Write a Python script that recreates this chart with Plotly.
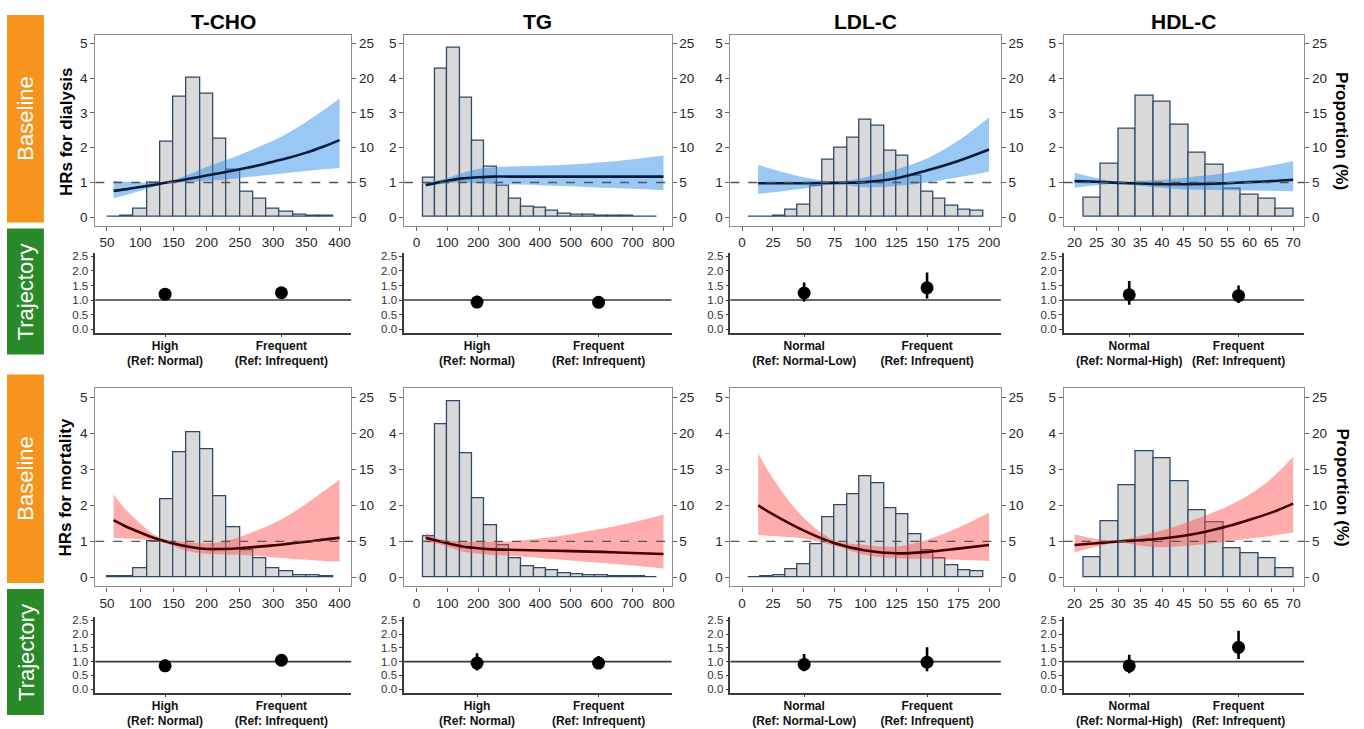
import plotly.graph_objects as go

# ---------------- DATA ----------------
# Histograms: bin centres and proportion (%)
TCHO_BINS = [60, 80, 100, 120, 140, 160, 180, 200, 220, 240, 260, 280, 300, 320, 340, 360, 380]
TCHO_PCT = [0.1, 0.2, 1.2, 5.0, 10.8, 17.4, 20.1, 17.8, 11.3, 6.9, 3.7, 2.6, 1.2, 0.8, 0.35, 0.25, 0.2]
TCHO_BW = 20

TG_BINS = [40, 80, 120, 160, 200, 240, 280, 320, 360, 400, 440, 480, 520, 560, 600, 640, 680, 720, 760]
TG_PCT = [5.7, 21.3, 24.4, 17.2, 11.0, 7.2, 4.5, 2.6, 1.5, 1.3, 0.95, 0.57, 0.43, 0.33, 0.24, 0.2, 0.2, 0.1, 0.05]
TG_BW = 40

LDL_BINS = [10, 20, 30, 40, 50, 60, 70, 80, 90, 100, 110, 120, 130, 140, 150, 160, 170, 180, 190]
LDL_PCT = [0.05, 0.1, 0.25, 1.1, 1.85, 4.6, 8.3, 10.0, 11.5, 14.0, 13.1, 9.6, 8.8, 6.0, 3.7, 2.7, 1.7, 1.05, 0.9]
LDL_BW = 10

HDL_BINS = [24, 28, 32, 36, 40, 44, 48, 52, 56, 60, 64, 68]
HDL_PCT = [2.85, 7.75, 12.8, 17.5, 16.6, 13.3, 9.3, 7.6, 4.1, 3.3, 2.6, 1.2]
HDL_BW = 4

# Spline HR curves (x, HR, lower CI, upper CI)
TCHO_X = [60, 80, 100, 120, 140, 160, 180, 200, 225, 250, 275, 300, 325, 350, 375, 400]
TCHO_HR_DIAL = [0.76, 0.81, 0.87, 0.93, 1.0, 1.06, 1.13, 1.2, 1.29, 1.38, 1.48, 1.6, 1.72, 1.86, 2.03, 2.22]
TCHO_LO_DIAL = [0.55, 0.65, 0.76, 0.88, 0.98, 1.0, 1.02, 1.05, 1.08, 1.13, 1.18, 1.23, 1.28, 1.33, 1.38, 1.42]
TCHO_HI_DIAL = [1.05, 1.02, 1.0, 0.99, 1.02, 1.14, 1.28, 1.45, 1.62, 1.8, 2.0, 2.2, 2.45, 2.75, 3.07, 3.42]
TCHO_HR_MORT = [1.59, 1.4, 1.25, 1.1, 0.99, 0.9, 0.83, 0.79, 0.79, 0.81, 0.85, 0.89, 0.94, 0.99, 1.05, 1.1]
TCHO_LO_MORT = [1.1, 1.08, 1.06, 1.02, 0.94, 0.8, 0.7, 0.66, 0.64, 0.63, 0.6, 0.56, 0.52, 0.49, 0.46, 0.44]
TCHO_HI_MORT = [2.3, 1.85, 1.5, 1.2, 1.04, 1.0, 0.97, 0.95, 1.0, 1.12, 1.3, 1.5, 1.75, 2.05, 2.38, 2.72]

TG_X = [30, 60, 100, 150, 200, 250, 300, 400, 500, 600, 700, 800]
TG_HR_DIAL = [0.93, 0.98, 1.05, 1.12, 1.15, 1.17, 1.17, 1.17, 1.17, 1.17, 1.17, 1.17]
TG_LO_DIAL = [0.88, 0.93, 0.98, 1.0, 0.98, 0.96, 0.94, 0.92, 0.89, 0.85, 0.82, 0.78]
TG_HI_DIAL = [0.98, 1.04, 1.13, 1.28, 1.39, 1.44, 1.46, 1.48, 1.52, 1.58, 1.67, 1.78]
TG_HR_MORT = [1.1, 1.03, 0.95, 0.86, 0.81, 0.78, 0.77, 0.75, 0.73, 0.71, 0.68, 0.65]
TG_LO_MORT = [0.97, 0.95, 0.85, 0.72, 0.66, 0.62, 0.6, 0.54, 0.47, 0.4, 0.33, 0.25]
TG_HI_MORT = [1.25, 1.1, 1.03, 1.0, 0.99, 0.99, 1.0, 1.08, 1.2, 1.35, 1.53, 1.75]

LDL_X = [13, 25, 50, 75, 100, 125, 150, 175, 200]
LDL_HR_DIAL = [0.98, 0.98, 0.98, 0.99, 1.01, 1.12, 1.35, 1.62, 1.95]
LDL_LO_DIAL = [0.67, 0.72, 0.83, 0.94, 0.86, 0.9, 1.0, 1.15, 1.32]
LDL_HI_DIAL = [1.5, 1.38, 1.15, 1.02, 1.15, 1.38, 1.7, 2.2, 2.88]
LDL_HR_MORT = [2.0, 1.75, 1.3, 0.95, 0.75, 0.67, 0.71, 0.8, 0.9]
LDL_LO_MORT = [1.18, 1.15, 1.08, 0.88, 0.62, 0.53, 0.52, 0.49, 0.46]
LDL_HI_MORT = [3.45, 2.75, 1.65, 1.03, 0.9, 0.86, 1.05, 1.38, 1.8]

HDL_X = [20, 25, 30, 35, 40, 45, 50, 55, 60, 65, 70]
HDL_HR_DIAL = [1.04, 1.02, 0.99, 0.97, 0.95, 0.95, 0.96, 0.98, 1.01, 1.04, 1.08]
HDL_LO_DIAL = [0.85, 0.92, 0.97, 0.9, 0.84, 0.8, 0.79, 0.78, 0.77, 0.76, 0.75]
HDL_HI_DIAL = [1.28, 1.13, 1.02, 1.05, 1.08, 1.14, 1.2, 1.28, 1.38, 1.49, 1.61]
HDL_HR_MORT = [0.9, 0.95, 1.0, 1.03, 1.08, 1.16, 1.27, 1.42, 1.6, 1.8, 2.05]
HDL_LO_MORT = [0.7, 0.85, 0.98, 0.88, 0.84, 0.87, 0.93, 1.0, 1.08, 1.16, 1.25]
HDL_HI_MORT = [1.2, 1.07, 1.03, 1.15, 1.3, 1.5, 1.72, 1.98, 2.3, 2.75, 3.35]

# Trajectory HRs
TCHO_TRAJ_LABELS = ["High<br>(Ref: Normal)", "Frequent<br>(Ref: Infrequent)"]
TG_TRAJ_LABELS = ["High<br>(Ref: Normal)", "Frequent<br>(Ref: Infrequent)"]
LDL_TRAJ_LABELS = ["Normal<br>(Ref: Normal-Low)", "Frequent<br>(Ref: Infrequent)"]
HDL_TRAJ_LABELS = ["Normal<br>(Ref: Normal-High)", "Frequent<br>(Ref: Infrequent)"]

TCHO_TRAJ_DIAL = [1.2, 1.25]; TCHO_TRAJ_DIAL_LO = [1.08, 1.12]; TCHO_TRAJ_DIAL_HI = [1.33, 1.4]
TG_TRAJ_DIAL = [0.93, 0.92]; TG_TRAJ_DIAL_LO = [0.78, 0.82]; TG_TRAJ_DIAL_HI = [1.15, 1.04]
LDL_TRAJ_DIAL = [1.24, 1.42]; LDL_TRAJ_DIAL_LO = [0.95, 1.05]; LDL_TRAJ_DIAL_HI = [1.6, 1.95]
HDL_TRAJ_DIAL = [1.18, 1.15]; HDL_TRAJ_DIAL_LO = [0.84, 0.9]; HDL_TRAJ_DIAL_HI = [1.65, 1.5]

TCHO_TRAJ_MORT = [0.85, 1.05]; TCHO_TRAJ_MORT_LO = [0.7, 0.88]; TCHO_TRAJ_MORT_HI = [1.08, 1.27]
TG_TRAJ_MORT = [0.95, 0.95]; TG_TRAJ_MORT_LO = [0.68, 0.75]; TG_TRAJ_MORT_HI = [1.3, 1.2]
LDL_TRAJ_MORT = [0.9, 0.98]; LDL_TRAJ_MORT_LO = [0.65, 0.65]; LDL_TRAJ_MORT_HI = [1.28, 1.52]
HDL_TRAJ_MORT = [0.85, 1.52]; HDL_TRAJ_MORT_LO = [0.58, 1.1]; HDL_TRAJ_MORT_HI = [1.25, 2.12]

TITLES = ["T-CHO", "TG", "LDL-C", "HDL-C"]
TCHO_TICKS = [50, 100, 150, 200, 250, 300, 350, 400]
TG_TICKS = [0, 100, 200, 300, 400, 500, 600, 700, 800]
LDL_TICKS = [0, 25, 50, 75, 100, 125, 150, 175, 200]
HDL_TICKS = [20, 25, 30, 35, 40, 45, 50, 55, 60, 65, 70]
HR_TICKS = [0, 1, 2, 3, 4, 5]
PCT_TICKS = [0, 5, 10, 15, 20, 25]
TRAJ_TICKS = [0.0, 0.5, 1.0, 1.5, 2.0, 2.5]

# ---------------- STYLE / LAYOUT ----------------
W, H = 1364, 729
FONT = "Liberation Sans, Arial, sans-serif"
NARROW = "Liberation Sans Narrow, Liberation Sans, Arial, sans-serif"
BAR_FILL = "#d9d9d9"
BAR_EDGE = "#2d4a6b"
BLUE_BAND = "rgba(40,140,230,0.48)"
RED_BAND = "rgba(255,70,70,0.45)"
NAVY = "#0a1a3c"
DARKRED = "#420000"
ORANGE = "#F7941D"
GREEN = "#2A8A2A"

COLS_PX = [(95.5, 352), (405, 673), (732, 1003), (1066, 1307)]
BASE_ROWS_PX = [(33, 225.5), (389, 588.5)]
TRAJ_ROWS_PX = [(252.5, 333), (619, 695.5)]
XRANGES = [[32.5, 417.5], [-40, 826], [-9.5, 209.5], [17.5, 72.5]]


def xdom(a, b):
    return [a / W, b / W]


def ydom(top, bottom):
    return [1 - bottom / H, 1 - top / H]


def aname(kind, n):
    return kind + "axis" + ("" if n == 1 else str(n))


def aref(kind, n):
    return kind + ("" if n == 1 else str(n))


fig = go.Figure()
layout = {}
shapes = []
annotations = []
counter = {"x": 0, "y": 0}


def new_axis(kind):
    counter[kind] += 1
    return counter[kind]


def baseline_panel(col, row, bins, pct, bw, xs, hr, lo, hi, band, line_col, ticks):
    nx = new_axis("x")
    nyp = new_axis("y")
    nyh = new_axis("y")
    X, YP, YH = aref("x", nx), aref("y", nyp), aref("y", nyh)
    fig.add_trace(go.Bar(x=bins, y=pct, width=[bw] * len(bins),
                         marker=dict(color=BAR_FILL, line=dict(color=BAR_EDGE, width=1.3)),
                         xaxis=X, yaxis=YP, hoverinfo="skip"))
    fig.add_trace(go.Scatter(x=xs, y=lo, mode="lines", line=dict(width=0, shape="spline", color=band),
                             xaxis=X, yaxis=YH, hoverinfo="skip"))
    fig.add_trace(go.Scatter(x=xs, y=hi, mode="lines", line=dict(width=0, shape="spline", color=band),
                             fill="tonexty", fillcolor=band, xaxis=X, yaxis=YH, hoverinfo="skip"))
    fig.add_trace(go.Scatter(x=xs, y=hr, mode="lines", line=dict(width=2.6, color=line_col, shape="spline"),
                             xaxis=X, yaxis=YH))
    c0, c1 = COLS_PX[col]
    r0, r1 = BASE_ROWS_PX[row]
    tickfont = dict(family=FONT, size=13.5, color="#262626")
    layout[aname("x", nx)] = dict(domain=xdom(c0, c1), anchor=YP, range=XRANGES[col], tickvals=ticks,
                                  showgrid=False, zeroline=False, showline=True, mirror=True,
                                  linecolor="#8c8c8c", linewidth=1.2, ticks="outside", ticklen=4,
                                  tickcolor="#666", tickfont=tickfont)
    layout[aname("y", nyp)] = dict(domain=ydom(r0, r1), anchor=X, side="right", range=[-1.25, 26.25],
                                   tickvals=PCT_TICKS, showgrid=False, zeroline=False, showline=True,
                                   mirror=True, linecolor="#8c8c8c", linewidth=1.2, ticks="outside",
                                   ticklen=4, tickcolor="#666", tickfont=tickfont)
    layout[aname("y", nyh)] = dict(domain=ydom(r0, r1), anchor=X, overlaying=YP, side="left",
                                   range=[-0.25, 5.25], tickvals=HR_TICKS, showgrid=False,
                                   zeroline=False, showline=False, ticks="outside", ticklen=4,
                                   tickcolor="#666", tickfont=tickfont)
    shapes.append(dict(type="line", xref=X + " domain", yref=YH, x0=0, x1=1, y0=1, y1=1,
                       line=dict(color="#555555", width=1.3, dash="dash"), layer="above"))


def traj_panel(col, row, labels, hr, lo, hi):
    nx = new_axis("x")
    ny = new_axis("y")
    X, Y = aref("x", nx), aref("y", ny)
    err_plus = [h - m for h, m in zip(hi, hr)]
    err_minus = [m - l for m, l in zip(hr, lo)]
    fig.add_trace(go.Scatter(x=["<b>" + s.replace("<br>", "</b><br><b>") + "</b>" for s in labels], y=hr,
                             mode="markers", marker=dict(size=13, color="black"),
                             error_y=dict(type="data", symmetric=False, array=err_plus,
                                          arrayminus=err_minus, color="black", thickness=2.6, width=0),
                             xaxis=X, yaxis=Y))
    c0, c1 = COLS_PX[col]
    r0, r1 = TRAJ_ROWS_PX[row]
    layout[aname("x", nx)] = dict(domain=xdom(c0, c1), anchor=Y, type="category", range=[-0.6, 1.6],
                                  showgrid=False, zeroline=False, showline=True, linecolor="#3a3a3a",
                                  linewidth=1.5, ticks="outside", ticklen=3, tickcolor="#3a3a3a",
                                  ticklabelstandoff=-2,
                                  tickfont=dict(family=NARROW, size=12, color="#111"))
    layout[aname("y", ny)] = dict(domain=ydom(r0, r1), anchor=X, range=[-0.125, 2.625],
                                  tickvals=TRAJ_TICKS, tickformat=".1f", showgrid=False, zeroline=False,
                                  showline=True, linecolor="#3a3a3a", linewidth=1.5, ticks="outside",
                                  ticklen=3, tickcolor="#3a3a3a",
                                  tickfont=dict(family=NARROW, size=11.5, color="#333"))
    shapes.append(dict(type="line", xref=X + " domain", yref=Y, x0=0, x1=1, y0=1, y1=1,
                       line=dict(color="#3a3a3a", width=1.6), layer="below"))


PANELS = [
    (TCHO_BINS, TCHO_PCT, TCHO_BW, TCHO_X, TCHO_TICKS,
     (TCHO_HR_DIAL, TCHO_LO_DIAL, TCHO_HI_DIAL), (TCHO_HR_MORT, TCHO_LO_MORT, TCHO_HI_MORT),
     TCHO_TRAJ_LABELS, (TCHO_TRAJ_DIAL, TCHO_TRAJ_DIAL_LO, TCHO_TRAJ_DIAL_HI),
     (TCHO_TRAJ_MORT, TCHO_TRAJ_MORT_LO, TCHO_TRAJ_MORT_HI)),
    (TG_BINS, TG_PCT, TG_BW, TG_X, TG_TICKS,
     (TG_HR_DIAL, TG_LO_DIAL, TG_HI_DIAL), (TG_HR_MORT, TG_LO_MORT, TG_HI_MORT),
     TG_TRAJ_LABELS, (TG_TRAJ_DIAL, TG_TRAJ_DIAL_LO, TG_TRAJ_DIAL_HI),
     (TG_TRAJ_MORT, TG_TRAJ_MORT_LO, TG_TRAJ_MORT_HI)),
    (LDL_BINS, LDL_PCT, LDL_BW, LDL_X, LDL_TICKS,
     (LDL_HR_DIAL, LDL_LO_DIAL, LDL_HI_DIAL), (LDL_HR_MORT, LDL_LO_MORT, LDL_HI_MORT),
     LDL_TRAJ_LABELS, (LDL_TRAJ_DIAL, LDL_TRAJ_DIAL_LO, LDL_TRAJ_DIAL_HI),
     (LDL_TRAJ_MORT, LDL_TRAJ_MORT_LO, LDL_TRAJ_MORT_HI)),
    (HDL_BINS, HDL_PCT, HDL_BW, HDL_X, HDL_TICKS,
     (HDL_HR_DIAL, HDL_LO_DIAL, HDL_HI_DIAL), (HDL_HR_MORT, HDL_LO_MORT, HDL_HI_MORT),
     HDL_TRAJ_LABELS, (HDL_TRAJ_DIAL, HDL_TRAJ_DIAL_LO, HDL_TRAJ_DIAL_HI),
     (HDL_TRAJ_MORT, HDL_TRAJ_MORT_LO, HDL_TRAJ_MORT_HI)),
]

for c, (bins, pct, bw, xs, ticks, dial, mort, tlabels, tdial, tmort) in enumerate(PANELS):
    baseline_panel(c, 0, bins, pct, bw, xs, *dial, BLUE_BAND, NAVY, ticks)
    traj_panel(c, 0, tlabels, *tdial)
    baseline_panel(c, 1, bins, pct, bw, xs, *mort, RED_BAND, DARKRED, ticks)
    traj_panel(c, 1, tlabels, *tmort)
    cx = (COLS_PX[c][0] + COLS_PX[c][1]) / 2
    annotations.append(dict(text="<b>" + TITLES[c] + "</b>", x=cx / W, y=1 - 20 / H, xref="paper",
                            yref="paper", showarrow=False, xanchor="center", yanchor="middle",
                            font=dict(family=FONT, size=21, color="black")))

# Left side label boxes
BOXES = [(13, 222, ORANGE, "Baseline"), (228, 355, GREEN, "Trajectory"),
         (375, 585, ORANGE, "Baseline"), (591, 718, GREEN, "Trajectory")]
for top, bot, colr, txt in BOXES:
    shapes.append(dict(type="rect", xref="paper", yref="paper", x0=7 / W, x1=44 / W,
                       y0=1 - bot / H, y1=1 - top / H, fillcolor=colr, line=dict(width=0), layer="below"))
    annotations.append(dict(text=txt, x=26 / W, y=1 - (top + bot) / 2 / H, xref="paper", yref="paper",
                            showarrow=False, textangle=-90, xanchor="center", yanchor="middle",
                            font=dict(family=FONT, size=22, color="white")))

# Axis titles
for ytxt, yc in [("HRs for dialysis", 130), ("HRs for mortality", 489)]:
    annotations.append(dict(text="<b>" + ytxt + "</b>", x=66 / W, y=1 - yc / H, xref="paper", yref="paper",
                            showarrow=False, textangle=-90, xanchor="center", yanchor="middle",
                            font=dict(family=FONT, size=17, color="black")))
    annotations.append(dict(text="<b>Proportion (%)</b>", x=1345 / W, y=1 - yc / H, xref="paper",
                            yref="paper", showarrow=False, textangle=90, xanchor="center",
                            yanchor="middle", font=dict(family=FONT, size=17, color="black")))

fig.update_layout(width=W, height=H, margin=dict(l=0, r=0, t=0, b=0), paper_bgcolor="white",
                  plot_bgcolor="white", showlegend=False, shapes=shapes, annotations=annotations,
                  bargap=0, hovermode=False, **layout)

fig.write_html("out.html", config={"displayModeBar": False},
               post_script="document.body.style.margin='0';document.body.style.overflow='hidden';")
